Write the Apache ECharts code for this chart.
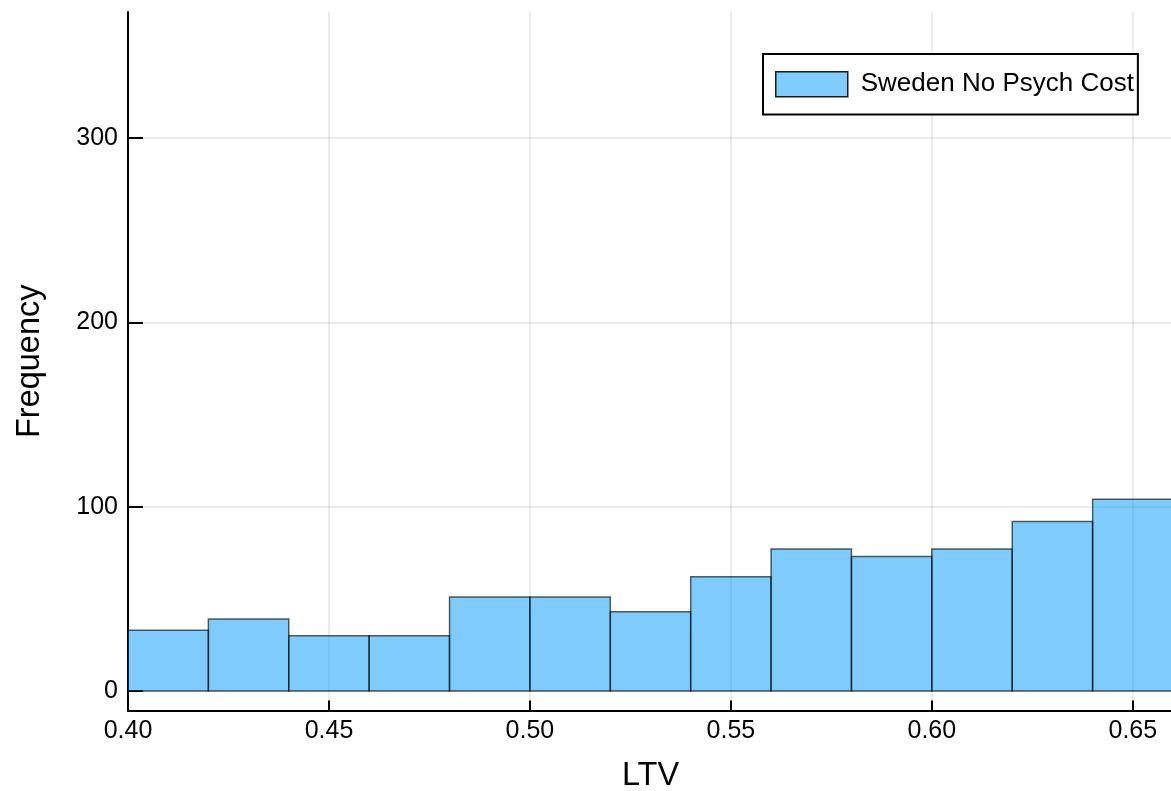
<!DOCTYPE html>
<html>
<head>
<meta charset="utf-8">
<title>LTV histogram</title>
<script src="https://cdn.jsdelivr.net/npm/echarts@6/dist/echarts.min.js"></script>
<style>
  html, body { margin: 0; padding: 0; background: #fff; }
  #chart { width: 1171px; height: 791px; }
</style>
</head>
<body>
<div id="chart"></div>
<script>
// Histogram bins (LTV) and their counts
const binEdges = [0.40, 0.42, 0.44, 0.46, 0.48, 0.50, 0.52, 0.54, 0.56, 0.58, 0.60, 0.62, 0.64, 0.66];
const counts = [33, 39, 30, 30, 51, 51, 43, 62, 77, 73, 77, 92, 104];
const seriesName = 'Sweden No Psych Cost';

// Axis ticks
const xTicks = [0.40, 0.45, 0.50, 0.55, 0.60, 0.65];
const yTicks = [0, 100, 200, 300];

const FONT = '"Liberation Sans", Arial, Helvetica, sans-serif';
const FILL = 'rgba(0,154,250,0.5)';
const EDGE = 'rgba(0,0,0,0.62)';

const data = counts.map((c, i) => [binEdges[i], binEdges[i + 1], c]);

const chart = echarts.init(document.getElementById('chart'), null, { renderer: 'canvas' });

chart.setOption({
  animation: false,
  backgroundColor: '#fff',
  grid: { left: 128, right: -2, top: 12, bottom: 80.5, containLabel: false, outerBoundsMode: 'none' },
  legend: {
    data: [{
      name: seriesName,
      icon: 'rect',
      itemStyle: { color: '#80CCFC', borderColor: '#1a1a1a', borderWidth: 1.5 }
    }],
    left: 763,
    top: 54,
    orient: 'horizontal',
    itemWidth: 72,
    itemHeight: 25,
    padding: [17, 4, 17, 12],
    backgroundColor: '#fff',
    borderColor: '#000',
    borderWidth: 2,
    borderRadius: 0,
    selectedMode: false,
    textStyle: { fontFamily: FONT, fontSize: 26, color: '#000', padding: [0, 0, 0, 8] }
  },
  xAxis: {
    type: 'value',
    min: 0.40,
    max: 0.66,
    name: 'LTV',
    nameLocation: 'middle',
    nameGap: 49,
    nameTextStyle: { fontFamily: FONT, fontSize: 32.5, color: '#000' },
    axisLine: { onZero: false, lineStyle: { color: '#000', width: 2 } },
    axisTick: { inside: true, length: 10, lineStyle: { color: '#000', width: 2 }, customValues: xTicks },
    axisLabel: {
      customValues: xTicks,
      formatter: v => v.toFixed(2),
      fontFamily: FONT, fontSize: 25, color: '#000', margin: 8
    },
    splitLine: { show: true, lineStyle: { color: 'rgba(0,0,0,0.1)', width: 1.5 } }
  },
  yAxis: {
    type: 'value',
    min: -10.6,
    max: 368.4,
    name: 'Frequency',
    nameLocation: 'middle',
    nameGap: 81,
    nameTextStyle: { fontFamily: FONT, fontSize: 32.5, color: '#000' },
    axisLine: { show: true, onZero: false, lineStyle: { color: '#000', width: 2 } },
    axisTick: { show: true, inside: true, length: 15, lineStyle: { color: '#000', width: 2 }, customValues: yTicks },
    axisLabel: {
      customValues: yTicks,
      formatter: v => String(v),
      fontFamily: FONT, fontSize: 25, color: '#000', margin: 10,
      padding: [3, 0, 0, 0]
    },
    splitLine: { show: true, lineStyle: { color: 'rgba(0,0,0,0.1)', width: 1.5 } }
  },
  series: [{
    name: seriesName,
    type: 'custom',
    clip: true,
    itemStyle: { color: FILL, borderColor: EDGE },
    encode: { x: [0, 1], y: 2 },
    data: data,
    renderItem: (params, api) => {
      const p0 = api.coord([api.value(0), 0]);
      const p1 = api.coord([api.value(1), api.value(2)]);
      return {
        type: 'rect',
        shape: { x: p0[0], y: p1[1], width: p1[0] - p0[0], height: p0[1] - p1[1] },
        style: { fill: FILL, stroke: EDGE, lineWidth: 1.5 }
      };
    }
  }]
});
</script>
</body>
</html>
